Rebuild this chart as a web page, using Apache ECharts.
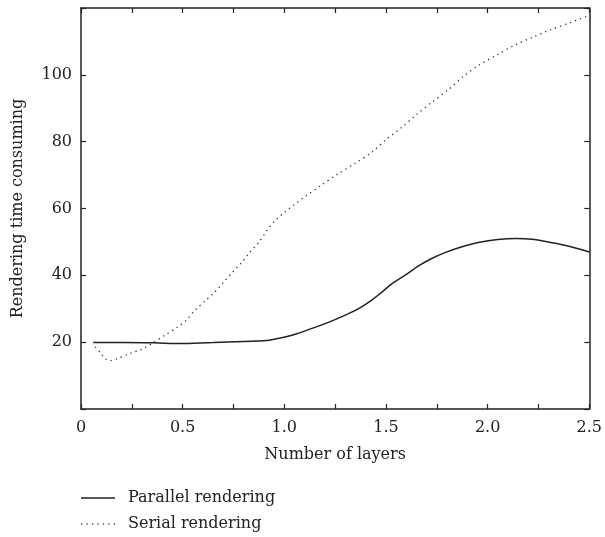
<!DOCTYPE html>
<html>
<head>
<meta charset="utf-8">
<script src="https://cdn.jsdelivr.net/npm/echarts@6/dist/echarts.min.js"></script>
<style>
html,body{margin:0;padding:0;background:#fff;}
#c{width:605px;height:537px;}
</style>
</head>
<body>
<div id="c"></div>
<script>
const seriesNames = ["Parallel rendering", "Serial rendering"];
const xAxisTitle = "Number of layers";
const yAxisTitle = "Rendering time consuming";

const parallelX = [0.06,0.2,0.36,0.47,0.65,0.8,0.9,0.975,1.05,1.14,1.22,1.30,1.37,1.43,1.48,1.53,1.60,1.66,1.72,1.79,1.87,1.96,2.05,2.14,2.22,2.28,2.34,2.40,2.45,2.5];
const parallelY = [19.9,19.9,19.8,19.6,19.9,20.2,20.4,21.2,22.3,24.2,26.0,28.1,30.2,32.6,35.0,37.5,40.3,42.8,44.9,46.8,48.5,49.9,50.7,51.0,50.8,50.2,49.5,48.7,47.9,47.0];

const serialX = [0.07,0.10,0.12,0.147,0.18,0.24,0.30,0.36,0.41,0.47,0.52,0.56,0.61,0.66,0.70,0.745,0.79,0.83,0.875,0.91,0.95,1.0,1.05,1.10,1.18,1.26,1.35,1.43,1.50,1.58,1.65,1.73,1.81,1.88,1.96,2.05,2.13,2.22,2.31,2.41,2.5];
const serialY = [18.6,16.5,15.0,14.5,15.1,16.6,17.9,20.0,22.0,24.3,26.7,29.5,32.3,35.1,37.9,40.9,43.8,46.9,49.9,53.0,56.1,58.8,61.2,63.5,66.9,70.2,73.6,76.8,80.6,84.4,88.1,92.0,95.7,99.5,103.0,106.1,108.8,111.2,113.5,115.7,117.8];

const xTickLabels = {"0":"0","0.5":"0.5","1":"1.0","1.5":"1.5","2":"2.0","2.5":"2.5"};
const yTickLabels = {"20":"20","40":"40","60":"60","80":"80","100":"100"};

const FONT = "'DejaVu Serif', 'Liberation Serif', serif";
const FS = 16;
const AX = '#222';
const TXT = '#222';

const zip = (xs, ys) => xs.map((x, i) => [x, ys[i]]);

const chart = echarts.init(document.getElementById('c'), null, {renderer: 'canvas'});

const axisCommon = () => ({
  axisLine: {show: true, onZero: false, lineStyle: {color: AX, width: 1.5}},
  axisTick: {show: true, inside: true, length: 5, lineStyle: {color: AX, width: 1.2}},
  splitLine: {show: false}
});

// legend icons: a solid bar and a row of dots (34 x 1.5 units)
const solidIcon = 'path://M0,0H34V1.5H0Z';
let dots = '';
for (let i = 0; i < 7; i++) { const x = i * 5.5; dots += 'M' + x + ',0H' + (x + 1.4) + 'V1.5H' + x + 'Z'; }
const dottedIcon = 'path://' + dots;

chart.setOption({
  animation: false,
  backgroundColor: '#fff',
  grid: {left: 81, right: 14, top: 8, bottom: 128, containLabel: false},
  xAxis: [
    Object.assign({
      type: 'value', min: 0, max: 2.5, interval: 0.25, position: 'bottom',
      name: xAxisTitle, nameLocation: 'middle', nameGap: 38,
      nameTextStyle: {fontFamily: FONT, fontSize: FS, color: TXT},
      axisLabel: {
        fontFamily: FONT, fontSize: FS, color: TXT, margin: 11,
        formatter: v => { const k = String(+v.toFixed(2)); return xTickLabels[k] !== undefined ? xTickLabels[k] : ''; }
      }
    }, axisCommon()),
    Object.assign({
      type: 'value', min: 0, max: 2.5, interval: 0.25, position: 'top',
      axisLabel: {show: false}
    }, axisCommon())
  ],
  yAxis: [
    Object.assign({
      type: 'value', min: 0, max: 120, interval: 20, position: 'left',
      name: yAxisTitle, nameLocation: 'middle', nameGap: 55, nameRotate: 90,
      nameTextStyle: {fontFamily: FONT, fontSize: FS, color: TXT},
      axisLabel: {
        fontFamily: FONT, fontSize: FS, color: TXT, margin: 9,
        formatter: v => { const k = String(v); return yTickLabels[k] !== undefined ? yTickLabels[k] : ''; }
      }
    }, axisCommon()),
    Object.assign({
      type: 'value', min: 0, max: 120, interval: 20, position: 'right',
      axisLabel: {show: false}
    }, axisCommon())
  ],
  legend: {
    orient: 'vertical', left: 81, top: 489, padding: 0, itemGap: 8, itemWidth: 34, itemHeight: 1.5,
    textStyle: {fontFamily: FONT, fontSize: FS, color: TXT, padding: [0, 0, 0, 8], height: 18, lineHeight: 18},
    data: [
      {name: seriesNames[0], icon: solidIcon, itemStyle: {color: '#222'}},
      {name: seriesNames[1], icon: dottedIcon, itemStyle: {color: '#555'}}
    ]
  },
  series: [
    {
      name: seriesNames[0], type: 'line', data: zip(parallelX, parallelY),
      showSymbol: false, symbol: 'none', smooth: 0.4,
      lineStyle: {color: '#222', width: 1.5, type: 'solid'},
      itemStyle: {color: '#222'}
    },
    {
      name: seriesNames[1], type: 'line', data: zip(serialX, serialY),
      showSymbol: false, symbol: 'none', smooth: 0.3,
      lineStyle: {color: '#333', width: 1.3, type: [1.3, 4]},
      itemStyle: {color: '#333'}
    }
  ]
});
</script>
</body>
</html>
